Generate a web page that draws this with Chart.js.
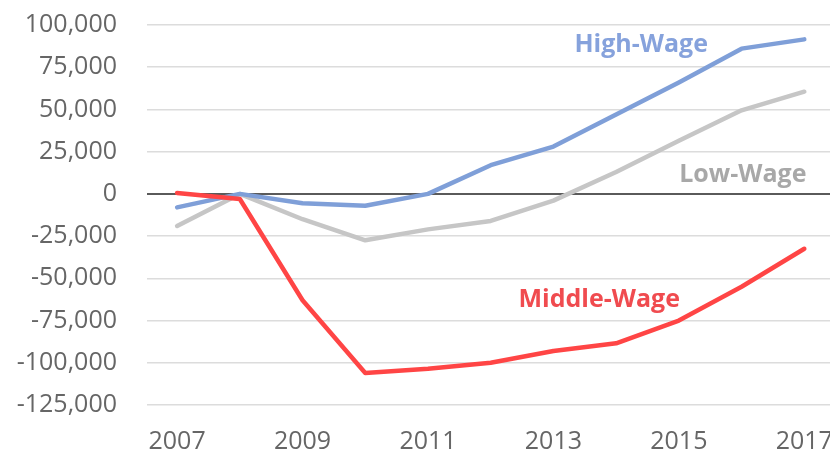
<!DOCTYPE html>
<html>
<head>
<meta charset="utf-8">
<script src="https://cdn.jsdelivr.net/npm/chart.js@4"></script>
<style>
  html, body { margin: 0; padding: 0; background: #fff; overflow: hidden; }
  #wrap { width: 830px; height: 458px; }
</style>
</head>
<body>
<div id="wrap"><canvas id="lineChart"></canvas></div>
<script>
// data
const years = [2007, 2008, 2009, 2010, 2011, 2012, 2013, 2014, 2015, 2016, 2017];
const highWage = [-8000, 0, -5500, -7000, 0, 17000, 28000, 47000, 66000, 86000, 91500];
const lowWage = [-19000, 0, -15000, -27500, -21000, -16000, -4000, 13000, 31500, 49500, 60500];
const middleWage = [500, -3000, -63000, -106000, -103500, -100000, -93000, -88500, -75000, -55000, -32500];
const xTickLabels = [2007, 2009, 2011, 2013, 2015, 2017];
const yTicks = [-125000, -100000, -75000, -50000, -25000, 0, 25000, 50000, 75000, 100000];

const toPoints = (vals) => vals.map((v, i) => ({ x: years[i], y: v }));

// text labels next to the lines
const seriesLabels = [
  { text: "High-Wage", x: 2014.4, y: 88000, color: "#86a2dc" },
  { text: "Low-Wage", x: 2016.02, y: 11000, color: "#a8a8a8" },
  { text: "Middle-Wage", x: 2013.73, y: -62500, color: "#f04b4f" }
];

const labelPlugin = {
  id: "seriesLabels",
  afterDatasetsDraw(chart) {
    const ctx = chart.ctx;
    const xs = chart.scales.x, ys = chart.scales.y;
    ctx.save();
    ctx.font = "bold 25px 'Open Sans'";
    ctx.textAlign = "center";
    ctx.textBaseline = "middle";
    seriesLabels.forEach(l => {
      ctx.fillStyle = l.color;
      ctx.fillText(l.text, xs.getPixelForValue(l.x), ys.getPixelForValue(l.y));
    });
    ctx.restore();
  }
};

document.addEventListener("DOMContentLoaded", function() {
  new Chart(document.getElementById("lineChart"), {
    type: "line",
    data: {
      datasets: [
        { label: "Middle-Wage", data: toPoints(middleWage), borderColor: "#ff4545", borderWidth: 4.5 },
        { label: "High-Wage", data: toPoints(highWage), borderColor: "#7f9fd8", borderWidth: 4.5 },
        { label: "Low-Wage", data: toPoints(lowWage), borderColor: "#c6c6c6", borderWidth: 4.5 }
      ]
    },
    options: {
      responsive: true,
      maintainAspectRatio: false,
      animation: false,
      elements: { point: { radius: 0 }, line: { tension: 0, borderCapStyle: "round", borderJoinStyle: "round" } },
      layout: { padding: { top: 25, left: 0, right: 0, bottom: 0 } },
      plugins: { legend: { display: false }, tooltip: { enabled: false } },
      scales: {
        x: {
          type: "linear",
          min: 2006.52,
          max: 2017.41,
          afterBuildTicks: s => { s.ticks = xTickLabels.map(v => ({ value: v })); },
          afterFit: s => { s.paddingLeft = 0; s.paddingRight = 0; s.height = 53; },
          grid: { display: false, drawTicks: false },
          border: { display: false },
          ticks: {
            padding: 22,
            color: "#666",
            font: { family: "'Open Sans'", size: 25 },
            callback: v => String(v)
          }
        },
        y: {
          min: -125000,
          max: 100000,
          afterBuildTicks: s => { s.ticks = yTicks.map(v => ({ value: v })); },
          afterFit: s => { s.width = 147; s.paddingTop = 0; s.paddingBottom = 0; },
          grid: {
            drawTicks: false,
            color: c => c.tick.value === 0 ? "#5a5a5a" : "#dcdcdc",
            lineWidth: c => c.tick.value === 0 ? 2 : 1.5
          },
          border: { display: false },
          ticks: {
            padding: 30,
            color: "#666",
            font: { family: "'Open Sans'", size: 25 },
            callback: v => v.toLocaleString("en-US")
          }
        }
      }
    },
    plugins: [labelPlugin]
  });
});
</script>
</body>
</html>
